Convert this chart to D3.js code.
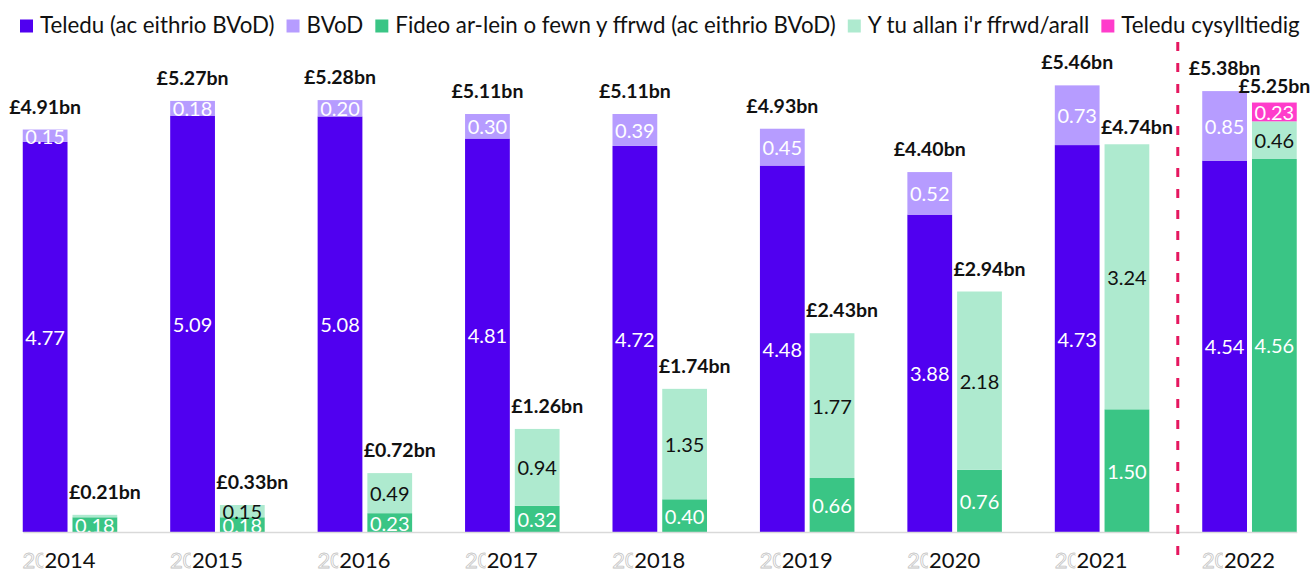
<!DOCTYPE html>
<html>
<head>
<meta charset="utf-8">
<script src="https://cdn.jsdelivr.net/npm/d3@7"></script>
<style>
  html, body { margin: 0; padding: 0; background: #fff; }
  svg { display: block; font-family: Lato, "Open Sans", sans-serif; }
</style>
</head>
<body>
<svg id="chart" width="1313" height="570"></svg>
<script>
// ---------- DATA ----------
const years = ["2014", "2015", "2016", "2017", "2018", "2019", "2020", "2021", "2022"];
const tvExBvod = [4.77, 5.09, 5.08, 4.81, 4.72, 4.48, 3.88, 4.73, 4.54];
const bvod = [0.15, 0.18, 0.20, 0.30, 0.39, 0.45, 0.52, 0.73, 0.85];
const tvTotals = [4.91, 5.27, 5.28, 5.11, 5.11, 4.93, 4.40, 5.46, 5.38];
const onlineInPlatform = [0.18, 0.18, 0.23, 0.32, 0.40, 0.66, 0.76, 1.50, 4.56];
const offPlatform = [0.03, 0.15, 0.49, 0.94, 1.35, 1.77, 2.18, 3.24, 0.46];
const connectedTv = [0, 0, 0, 0, 0, 0, 0, 0, 0.23];
const onlineTotals = [0.21, 0.33, 0.72, 1.26, 1.74, 2.43, 2.94, 4.74, 5.25];
const seriesNames = [
  "Teledu (ac eithrio BVoD)",
  "BVoD",
  "Fideo ar-lein o fewn y ffrwd (ac eithrio BVoD)",
  "Y tu allan i'r ffrwd/arall",
  "Teledu cysylltiedig"
];

// ---------- STYLE ----------
const keys = ["tv", "bvod", "inPlat", "off", "ctv"];
const colors = { tv: "#5000F0", bvod: "#B69CFF", inPlat: "#3AC585", off: "#AEEACF", ctv: "#FF3CCB" };
const labelColors = { tv: "#fff", bvod: "#fff", inPlat: "#fff", off: "#111", ctv: "#fff" };

const svg = d3.select("#chart");
const baseY = 532;
const pxPerUnit = 81.8;

const rows = years.map((yr, i) => ({
  year: yr, i: i,
  tv: tvExBvod[i], bvod: bvod[i],
  inPlat: onlineInPlatform[i], off: offPlatform[i], ctv: connectedTv[i]
}));

const x = d3.scaleBand().domain(years).range([22.75, 1296.75]).paddingInner(0.359).paddingOuter(0);
const xs = d3.scaleBand().domain(["tvGroup", "onlineGroup"]).range([0, x.bandwidth()]).paddingInner(0.1);
const y = d3.scaleLinear().domain([0, 6]).range([baseY, baseY - 6 * pxPerUnit]);

const tvStack = d3.stack().keys(["tv", "bvod"])(rows);
const onStack = d3.stack().keys(["inPlat", "off", "ctv"])(rows);

function drawStack(stack, group) {
  const g = svg.append("g");
  stack.forEach(layer => {
    const k = layer.key;
    layer.forEach(d => {
      const v = d[1] - d[0];
      if (v <= 0) return;
      const bx = x(d.data.year) + xs(group);
      g.append("rect")
        .attr("x", bx).attr("y", y(d[1]))
        .attr("width", xs.bandwidth())
        .attr("height", y(d[0]) - y(d[1]))
        .attr("fill", colors[k]);
    });
  });
  stack.forEach(layer => {
    const k = layer.key;
    layer.forEach(d => {
      const v = d.data[k];
      if (v < 0.1) return;
      const bx = x(d.data.year) + xs(group) + xs.bandwidth() / 2;
      g.append("text")
        .attr("x", bx).attr("y", (y(d[0]) + y(d[1])) / 2)
        .attr("text-anchor", "middle")
        .attr("dominant-baseline", "central")
        .attr("font-size", 20)
        .attr("fill", labelColors[k])
        .text(v.toFixed(2));
    });
  });
}
drawStack(tvStack, "tvGroup");
drawStack(onStack, "onlineGroup");

// totals
const fmt = v => "£" + v.toFixed(2) + "bn";
const totG = svg.append("g").attr("font-weight", "bold").attr("font-size", 19.5).attr("fill", "#111").attr("text-anchor", "middle");
rows.forEach((r, i) => {
  const topTv = tvStack[tvStack.length - 1][i][1];
  totG.append("text")
    .attr("x", x(r.year) + xs("tvGroup") + xs.bandwidth() / 2)
    .attr("y", y(topTv) - 16)
    .text(fmt(tvTotals[i]));
  const topOn = onStack[onStack.length - 1][i][1];
  const dx = i < 8 ? 10 : 0;
  const gap = i < 7 ? 16 : 10;
  totG.append("text")
    .attr("x", x(r.year) + xs("onlineGroup") + xs.bandwidth() / 2 + dx)
    .attr("y", y(topOn) - gap)
    .text(fmt(onlineTotals[i]));
});

// axis
const axisG = svg.append("g").attr("transform", `translate(0,${baseY})`);
// ghost labels (behind)
years.forEach(yr => {
  axisG.append("text")
    .attr("x", x(yr) + xs("tvGroup") + xs.bandwidth() / 2 + 3)
    .attr("y", 36)
    .attr("text-anchor", "middle")
    .attr("font-size", 22)
    .attr("fill", "#fff")
    .attr("stroke", "#c4c4c4")
    .attr("stroke-width", 0.8)
    .text(yr);
});
const axis = d3.axisBottom(x).tickSize(0).tickPadding(0);
const ax = axisG.append("g").call(axis);
ax.select(".domain").attr("stroke", "#d9d9d9").attr("stroke-width", 1.5);
ax.selectAll(".tick text")
  .attr("y", 36).attr("dy", 0)
  .attr("font-size", 22)
  .attr("font-family", "Lato, 'Open Sans', sans-serif")
  .attr("fill", "#111");
ax.selectAll(".tick").each(function () {
  const t = d3.select(this).select("text");
  const b = t.node().getBBox();
  d3.select(this).insert("rect", "text")
    .attr("x", b.x - 1).attr("y", b.y).attr("width", b.width + 2).attr("height", b.height)
    .attr("fill", "#fff");
});

// dashed separator
const sepX = (x("2021") + x.bandwidth() + x("2022")) / 2 + 2;
svg.append("line")
  .attr("x1", sepX).attr("x2", sepX)
  .attr("y1", 42).attr("y2", 566)
  .attr("stroke", "#E5175F").attr("stroke-width", 3)
  .attr("stroke-dasharray", "9,12");

// legend
const leg = svg.append("g");
let lx = 20;
keys.forEach((k, i) => {
  leg.append("rect").attr("x", lx).attr("y", 19.5).attr("width", 13).attr("height", 13).attr("fill", colors[k]);
  const t = leg.append("text").attr("x", lx + 20).attr("y", 33)
    .attr("font-size", 22.3).attr("fill", "#111").text(seriesNames[i]);
  lx += 20 + t.node().getComputedTextLength() + 12;
});
</script>
</body>
</html>
